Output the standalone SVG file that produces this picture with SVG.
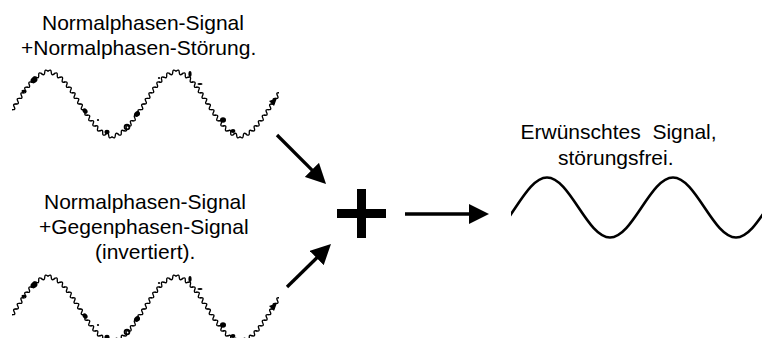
<svg xmlns="http://www.w3.org/2000/svg" xmlns:xlink="http://www.w3.org/1999/xlink" width="762" height="338" viewBox="0 0 762 338">
<style>
  .lbl { font-family: "Liberation Sans", Arial, Helvetica, sans-serif; font-size: 21px; fill: #000; }
  .spine { fill: none; stroke: none; marker-start: url(#wig); marker-mid: url(#wig); marker-end: url(#wig); }
  .clean { fill: none; stroke: #000; stroke-width: 2.6; }
  .conn { stroke: #000; stroke-width: 3.3; fill: none; }
  .blob { fill: #000; }
</style>
<defs>
  <marker id="arrow" viewBox="0 0 20 20" refX="1" refY="10" markerWidth="20" markerHeight="20" markerUnits="userSpaceOnUse" orient="auto">
    <path d="M0,0 L20,10 L0,20 Z" fill="#000"/>
  </marker>
  <marker id="wig" viewBox="-5 -5 10 10" refX="0" refY="0" markerWidth="10" markerHeight="10" markerUnits="userSpaceOnUse" orient="auto" overflow="visible">
    <path d="M-3.35,0 Q-1.67,-3.3 0,0 Q1.67,3.3 3.35,0" fill="none" stroke="#000" stroke-width="1.35" stroke-linecap="round"/>
  </marker>
  <path id="halfDown" class="spine" d="M3.29,-31.58 L9.29,-28.73 L14.37,-24.37 L18.77,-19.35 L22.78,-13.99 L26.56,-8.45 L30.20,-2.83 L33.80,2.83 L37.44,8.45 L41.22,13.99 L45.23,19.35 L49.63,24.37 L54.71,28.73 L60.71,31.58"/>
  <clipPath id="clipNoisy">
    <rect x="12" y="0" width="267" height="338"/>
  </clipPath>
  <clipPath id="clipClean">
    <rect x="511" y="0" width="251" height="338"/>
  </clipPath>
  <g id="noisyWave">
    <g clip-path="url(#clipNoisy)">
      <use xlink:href="#halfDown" href="#halfDown" transform="translate(48,104) scale(-1,1)"/>
      <use xlink:href="#halfDown" href="#halfDown" transform="translate(48,104)"/>
      <use xlink:href="#halfDown" href="#halfDown" transform="translate(176,104) scale(-1,1)"/>
      <use xlink:href="#halfDown" href="#halfDown" transform="translate(176,104)"/>
      <use xlink:href="#halfDown" href="#halfDown" transform="translate(304,104) scale(-1,1)"/>
    </g>
    <ellipse class="blob" cx="34" cy="80" rx="3.6" ry="3" transform="rotate(-40 34 80)"/>
    <ellipse class="blob" cx="24" cy="91" rx="2.6" ry="1.2"/>
    <ellipse class="blob" cx="85" cy="111" rx="3" ry="2.2" transform="rotate(50 85 111)"/>
    <circle class="blob" cx="98" cy="120" r="1.1"/>
    <ellipse class="blob" cx="107" cy="132" rx="2.6" ry="2.2"/>
    <circle cx="127" cy="127" r="2.4" fill="none" stroke="#000" stroke-width="1.8"/>
    <ellipse class="blob" cx="137" cy="114" rx="3.2" ry="2.6" transform="rotate(-45 137 114)"/>
    <circle class="blob" cx="159" cy="78" r="1.1"/>
    <ellipse class="blob" cx="190" cy="74" rx="1.6" ry="3"/>
    <ellipse class="blob" cx="200" cy="84" rx="2.6" ry="1.1"/>
    <ellipse class="blob" cx="223" cy="120" rx="3" ry="2.8"/>
    <ellipse class="blob" cx="233" cy="131" rx="2.4" ry="2"/>
    <path class="blob" d="M269,101 L277,98 L274,106 Z"/>
  </g>
</defs>

<g id="signal-top">
  <text class="lbl" x="42" y="30">Normalphasen-Signal</text>
  <text class="lbl" x="21" y="55">+Normalphasen-Störung.</text>
  <use xlink:href="#noisyWave" href="#noisyWave"/>
</g>

<g id="signal-bottom">
  <text class="lbl" x="44" y="209">Normalphasen-Signal</text>
  <text class="lbl" x="39" y="234">+Gegenphasen-Signal</text>
  <text class="lbl" x="95" y="259">(invertiert).</text>
  <use xlink:href="#noisyWave" href="#noisyWave" transform="translate(0,205)"/>
</g>

<g id="plus">
  <rect x="357" y="189" width="9" height="49" fill="#000"/>
  <rect x="337" y="209" width="49" height="9" fill="#000"/>
</g>

<g id="result">
  <text class="lbl" x="520.5" y="139" xml:space="preserve">Erwünschtes  Signal,</text>
  <text class="lbl" x="558" y="165">störungsfrei.</text>
  <g clip-path="url(#clipClean)">
    <path class="clean" d="M484,237.5 C506.9,237.5 524.1,177.5 547,177.5 C569.9,177.5 587.1,237.5 610,237.5 C632.9,237.5 650.1,177.5 673,177.5 C695.9,177.5 713.1,237.5 736,237.5 C758.9,237.5 776.1,177.5 799,177.5"/>
  </g>
</g>

<g id="connectors">
  <line class="conn" x1="277" y1="135" x2="312.6" y2="170.6" marker-end="url(#arrow)"/>
  <line class="conn" x1="287" y1="287" x2="317.4" y2="257.3" marker-end="url(#arrow)"/>
  <line class="conn" x1="405" y1="214" x2="470" y2="214" marker-end="url(#arrow)"/>
</g>
</svg>
